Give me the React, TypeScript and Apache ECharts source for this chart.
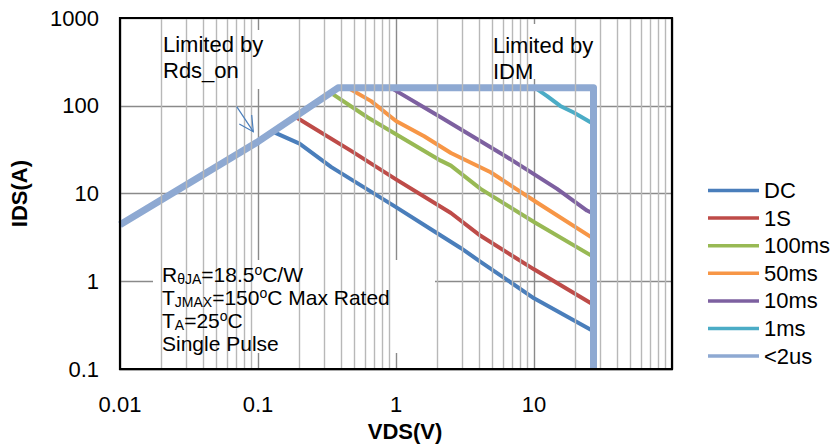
import React, { useEffect, useRef } from "react";
import * as echarts from "echarts";

// ---- tick labels ----
const xTickLabels = ["0.01", "0.1", "1", "10", ""]; // exponents -2..2
const yTickLabels = ["0.1", "1", "10", "100", "1000"]; // exponents -1..3
const minorGridX = [
  0.02, 0.03, 0.04, 0.05, 0.06, 0.07, 0.08, 0.09,
  0.2, 0.3, 0.4, 0.5, 0.6, 0.7, 0.8, 0.9,
  2, 3, 4, 5, 6, 7, 8, 9,
  20, 30, 40, 50, 60, 70, 80, 90,
];

// ---- series (VDS in V, IDS in A) ----
const seriesNames = ["DC", "1S", "100ms", "50ms", "10ms", "1ms", "<2us"];
const seriesColors = ["#4A7EBB", "#BE4B48", "#98B954", "#F79646", "#7D60A0", "#4BACC6", "#8EA9D2"];

const dcV = [0.13, 0.2, 0.34, 1, 1.9, 2.94, 4.1, 10, 27];
const dcI = [50, 37, 20, 7, 3.7, 2.4, 1.67, 0.64, 0.27];

const s1V = [0.19, 0.47, 1, 2.5, 4.1, 10, 27];
const s1I = [73.5, 30.8, 14.5, 6.0, 3.3, 1.37, 0.54];

const ms100V = [0.35, 0.625, 1, 2.11, 2.5, 4.1, 10, 27];
const ms100I = [135, 73.5, 47.5, 23.7, 20.8, 11.3, 4.75, 1.9];

const ms50V = [0.448, 0.66, 1, 1.6, 2.5, 4.85, 10.5, 27];
const ms50I = [160, 113, 67, 45, 29, 17.5, 7.9, 3.07];

const ms10V = [0.92, 2.11, 6.4, 14.7, 24.2, 27];
const ms10I = [160, 74, 25.9, 11.3, 6.4, 5.9];

const ms1V = [10.2, 12.45, 15.5, 19.4, 27];
const ms1I = [160, 129, 99.5, 83.7, 62];

const us2V = [0.01, 0.1, 0.38, 27, 27];
const us2I = [4.4, 39, 160, 160, 0.1];

const allV = [dcV, s1V, ms100V, ms50V, ms10V, ms1V, us2V];
const allI = [dcI, s1I, ms100I, ms50I, ms10I, ms1I, us2I];

const FONT = "'Liberation Sans', Arial, Helvetica, sans-serif";

export default function App() {
  const ref = useRef<HTMLDivElement>(null);

  useEffect(() => {
    document.body.style.margin = "0";
    if (!ref.current) return;
    const chart = echarts.init(ref.current, undefined, { renderer: "svg" });

    const dataSeries = seriesNames.map((name, k) => ({
      name,
      type: "line",
      data: allV[k].map((v, i) => [v, allI[k][i]]),
      symbol: "none",
      showSymbol: false,
      z: k === 6 ? 4 : 3,
      color: seriesColors[k],
      itemStyle: { color: seriesColors[k] },
      lineStyle: {
        color: seriesColors[k],
        width: k === 6 ? 7 : 4,
        join: "round",
        cap: "butt",
      },
      emphasis: { disabled: true },
      silent: true,
    }));

    const minorSeries = {
      name: "minorGrid",
      type: "line",
      data: [[0.01, 0.1]],
      symbol: "none",
      showSymbol: false,
      lineStyle: { opacity: 0 },
      silent: true,
      z: 1,
      markLine: {
        silent: true,
        symbol: ["none", "none"],
        label: { show: false },
        emphasis: { disabled: true },
        lineStyle: { color: "#b8b8b8", width: 1.4, type: "solid" },
        data: minorGridX.map((v) => ({ xAxis: v })),
      },
    };

    const richN = { fontSize: 21, lineHeight: 23, fill: "#000", fontFamily: FONT };
    const richS = { fontSize: 14, lineHeight: 12, verticalAlign: "bottom", fill: "#000", fontFamily: FONT };
    const richP = { fontSize: 14, lineHeight: 12, verticalAlign: "top", fill: "#000", fontFamily: FONT };

    chart.setOption({
      animation: false,
      backgroundColor: "#ffffff",
      grid: {
        left: 118,
        right: 164,
        top: 18,
        bottom: 76,
        show: true,
        borderColor: "#000",
        borderWidth: 2.2,
        backgroundColor: "transparent",
        z: 10,
      },
      legend: {
        data: seriesNames,
        orient: "vertical",
        left: 708,
        top: 179.5,
        padding: 0,
        icon: "rect",
        itemWidth: 51,
        itemHeight: 3.5,
        itemGap: 5.6,
        textStyle: { fontSize: 22, color: "#000", fontFamily: FONT },
        selectedMode: false,
      },
      xAxis: {
        type: "log",
        logBase: 10,
        min: 0.01,
        max: 100,
        name: "VDS(V)",
        nameLocation: "middle",
        nameGap: 50,
        nameTextStyle: { fontSize: 22, fontWeight: "bold", color: "#000", fontFamily: FONT, padding: [0, 0, 0, 18] },
        axisLine: { show: false },
        axisTick: { show: false },
        axisLabel: {
          margin: 24,
          fontSize: 22,
          color: "#000",
          fontFamily: FONT,
          formatter: (v: number) => xTickLabels[Math.round(Math.log10(v)) + 2] ?? "",
        },
        splitLine: { show: true, lineStyle: { color: "#8a8a8a", width: 1.4 } },
      },
      yAxis: {
        type: "log",
        logBase: 10,
        min: 0.1,
        max: 1000,
        name: "IDS(A)",
        nameLocation: "middle",
        nameGap: 90,
        nameTextStyle: { fontSize: 22, fontWeight: "bold", color: "#000", fontFamily: FONT },
        axisLine: { show: false },
        axisTick: { show: false },
        axisLabel: {
          margin: 21,
          fontSize: 22,
          color: "#000",
          fontFamily: FONT,
          formatter: (v: number) => yTickLabels[Math.round(Math.log10(v)) + 1] ?? "",
        },
        splitLine: { show: true, lineStyle: { color: "#8a8a8a", width: 1.4 } },
      },
      series: [minorSeries, ...dataSeries],
      graphic: [
        { type: "rect", z: 2, silent: true, shape: { x: 157, y: 30, width: 120, height: 59 }, style: { fill: "#fff" } },
        { type: "rect", z: 2, silent: true, shape: { x: 481, y: 24, width: 156, height: 55 }, style: { fill: "#fff" } },
        { type: "rect", z: 2, silent: true, shape: { x: 153, y: 260, width: 282, height: 93 }, style: { fill: "#fff" } },
        {
          type: "text", z: 6, silent: true, x: 163, y: 31,
          style: { text: "Limited by\nRds_on", fontSize: 22, lineHeight: 26.5, fill: "#000", fontFamily: FONT },
        },
        {
          type: "text", z: 6, silent: true, x: 493, y: 32,
          style: { text: "Limited by\nIDM", fontSize: 22, lineHeight: 26.5, fill: "#000", fontFamily: FONT },
        },
        {
          type: "text", z: 6, silent: true, x: 162, y: 263,
          style: {
            text:
              "{n|R}{s|θJA}{n|=18.5}{p|o}{n|C/W}\n" +
              "{n|T}{s|JMAX}{n|=150}{p|o}{n|C Max Rated}\n" +
              "{n|T}{s|A}{n|=25}{p|o}{n|C}\n" +
              "{n|Single Pulse}",
            fill: "#000",
            fontSize: 21,
            lineHeight: 23,
            fontFamily: FONT,
            rich: { n: richN, s: richS, p: richP },
          },
        },
        {
          type: "polyline", z: 6, silent: true,
          shape: { points: [[236.7, 106.7], [253.3, 131.7]] },
          style: { stroke: "#4A7EBB", lineWidth: 1.2, fill: "none" },
        },
        {
          type: "polyline", z: 6, silent: true,
          shape: { points: [[239.3, 124], [253.3, 131.7], [251.7, 115]] },
          style: { stroke: "#4A7EBB", lineWidth: 1.2, fill: "none" },
        },
      ],
    });

    return () => {
      chart.dispose();
    };
  }, []);

  return <div ref={ref} style={{ width: 836, height: 447 }} />;
}
